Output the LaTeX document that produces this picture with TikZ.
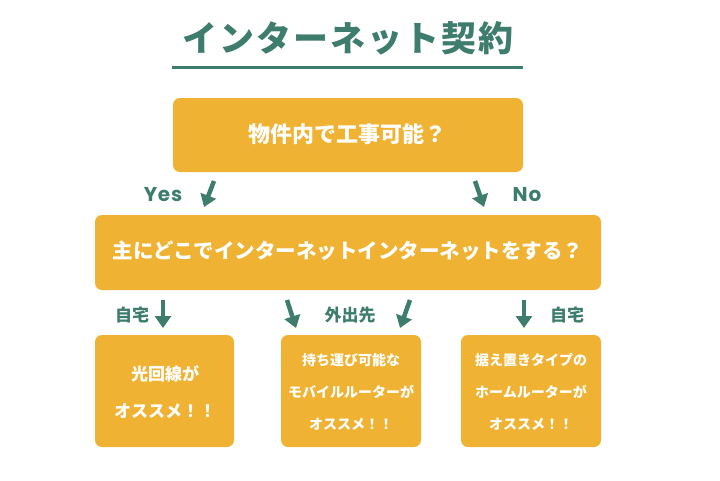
\documentclass[tikz,border=0pt]{standalone}
\usepackage{fontspec}
\newfontfamily\jp{Noto Sans CJK JP}
\newfontfamily\jpwide{Noto Sans CJK JP}[LetterSpace=6]
\newfontfamily\latin{Poppins}[LetterSpace=4]
\usetikzlibrary{arrows.meta}
\definecolor{teal}{HTML}{3E7D6D}
\definecolor{gold}{HTML}{F0B232}
\tikzset{
  box/.style={fill=gold, rounded corners=7pt, inner sep=0pt},
  boxtext/.style={text=white, font=\jp\bfseries, align=center, inner sep=0pt},
  lbl/.style={text=teal, font=\jp\bfseries\fontsize{17}{17}\selectfont, inner sep=0pt},
  yn/.style={text=teal, font=\latin\bfseries\fontsize{20}{20}\selectfont, inner sep=0pt},
  arr/.style={draw=teal, line width=4.5pt, -{Triangle[length=12pt,width=16pt]}},
}
\begin{document}
\begin{tikzpicture}[x=1pt,y=-1pt]
\useasboundingbox (0,0) rectangle (720,480);
% title
\node[text=teal, font=\jpwide\bfseries\fontsize{35}{35}\selectfont, inner sep=0pt] (title) at (348,38) {インターネット契約};
\coordinate (ulL) at (172,67);
\coordinate (ulR) at (523,67);
\draw[teal, line width=3pt] (ulL) -- (ulR);
% boxes
\path[box] (173,98) rectangle (523,172);
\node[boxtext, font=\jp\bfseries\fontsize{22}{22}\selectfont] (q1) at (347,134) {物件内で工事可能？};
\path[box] (95,215) rectangle (601,290);
\node[boxtext, font=\jp\bfseries\fontsize{20.5}{20.5}\selectfont] (q2) at (348,251) {主にどこでインターネットインターネットをする？};
\path[box] (95,335) rectangle (234,447);
\path[box] (281,335) rectangle (421,447);
\path[box] (461,335) rectangle (601,447);
\node[boxtext, font=\jp\bfseries\fontsize{17}{37}\selectfont] (a1) at (165,392) {光回線が\\オススメ！！};
\node[boxtext, font=\jp\bfseries\fontsize{14}{32}\selectfont] (a2) at (351,392) {持ち運び可能な\\モバイルルーターが\\オススメ！！};
\node[boxtext, font=\jp\bfseries\fontsize{14}{32}\selectfont] (a3) at (531,392) {据え置きタイプの\\ホームルーターが\\オススメ！！};
% yes/no
\node[yn] (yes) at (163,195) {Yes};
\node[yn] (no) at (527,195) {No};
\coordinate (ys) at (214,181); \coordinate (ye) at (204,207);
\coordinate (ns) at (475,181); \coordinate (ne) at (484,207);
\draw[arr] (ys) -- (ye);
\draw[arr] (ns) -- (ne);
% row 3 labels
\node[lbl] (home1) at (132,315) {自宅};
\node[lbl] (out) at (350,315) {外出先};
\node[lbl] (home2) at (567,315) {自宅};
\coordinate (a1s) at (163,300); \coordinate (a1e) at (163,328);
\coordinate (a2s) at (287,300); \coordinate (a2e) at (296,328);
\coordinate (a3s) at (410,300); \coordinate (a3e) at (400,328);
\coordinate (a4s) at (524,300); \coordinate (a4e) at (524,328);
\draw[arr] (a1s) -- (a1e);
\draw[arr] (a2s) -- (a2e);
\draw[arr] (a3s) -- (a3e);
\draw[arr] (a4s) -- (a4e);
\end{tikzpicture}
\end{document}
